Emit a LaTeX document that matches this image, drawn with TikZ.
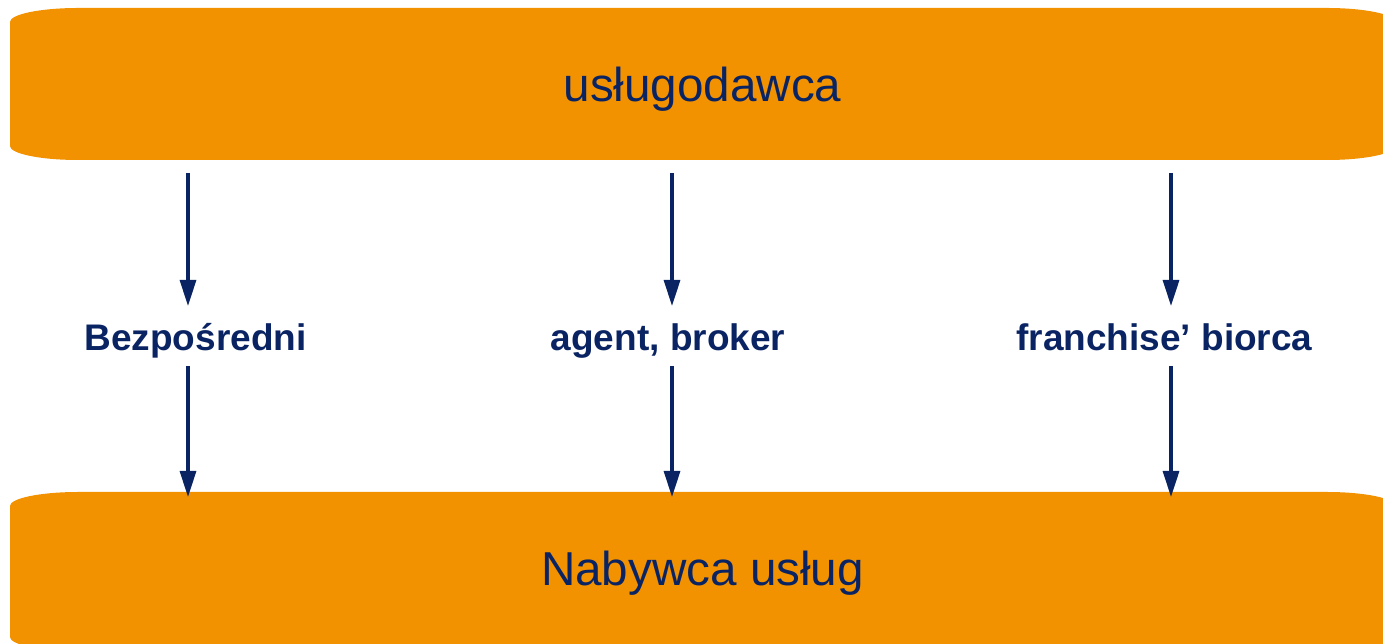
\documentclass[tikz,border=0pt]{standalone}
\usepackage{fontspec}
\setmainfont{Liberation Sans}
\usetikzlibrary{arrows.meta,backgrounds}

\definecolor{barorange}{RGB}{243,146,0}
\definecolor{navy}{RGB}{10,36,99}

\tikzset{
  bar/.style={inner sep=0pt, outer sep=0pt, minimum width=1385pt,
    anchor=base, text=navy, font=\fontsize{47.6}{56}\selectfont},
  chanlabel/.style={inner sep=0pt, outer sep=0pt, anchor=base,
    text height=27pt, text depth=8pt, text=navy,
    font=\fontsize{37}{44}\selectfont\bfseries},
  flow/.style={draw=navy, line width=3.2pt,
    -{Triangle[width=16pt,length=26pt]}},
}

% orange band with elliptical corners, spanning a node
\newcommand{\roundband}[1]{%
  \fill[barorange] ([yshift=14pt]#1.south west)
    -- ([yshift=-14pt]#1.north west)
    arc[start angle=180, end angle=90, x radius=68pt, y radius=14pt]
    -- ([xshift=-68pt]#1.north east)
    arc[start angle=90, end angle=0, x radius=68pt, y radius=14pt]
    -- ([yshift=14pt]#1.south east)
    arc[start angle=0, end angle=-90, x radius=68pt, y radius=14pt]
    -- ([xshift=68pt]#1.south west)
    arc[start angle=270, end angle=180, x radius=68pt, y radius=14pt]
    -- cycle;}

\begin{document}
\begin{tikzpicture}[x=1pt, y=1pt]
  \useasboundingbox (0,0) rectangle (1383,644);
  \clip (0,0) rectangle (1383,644);

  % provider and customer bands
  \node[bar, text height=93.5pt, text depth=58.5pt] (prov) at (702.5,542.5) {usługodawca};
  \node[bar, text height=93.7pt, text depth=65.3pt] (cust) at (702.5,58.3) {Nabywca usług};

  \begin{scope}[on background layer]
    \roundband{prov}
    \roundband{cust}
  \end{scope}

  % distribution channels
  \node[chanlabel] (direct) at (195.5,293) {Bezpośredni};
  \node[chanlabel] (agent)  at (668,293)   {agent, broker};
  \node[chanlabel] (franch) at (1164.5,293) {franchise’ biorca};

  % arrow columns
  \coordinate (c1) at (188,0);
  \coordinate (c2) at (672,0);
  \coordinate (c3) at (1171,0);

  \foreach \lab/\col in {direct/c1, agent/c2, franch/c3} {
    \draw[flow, shorten <=13pt, shorten >=18pt] (prov.south -| \col) -- (\lab.north -| \col);
    \draw[flow, shorten <=7pt, shorten >=-5pt] (\lab.south -| \col) -- (cust.north -| \col);
  }
\end{tikzpicture}
\end{document}
